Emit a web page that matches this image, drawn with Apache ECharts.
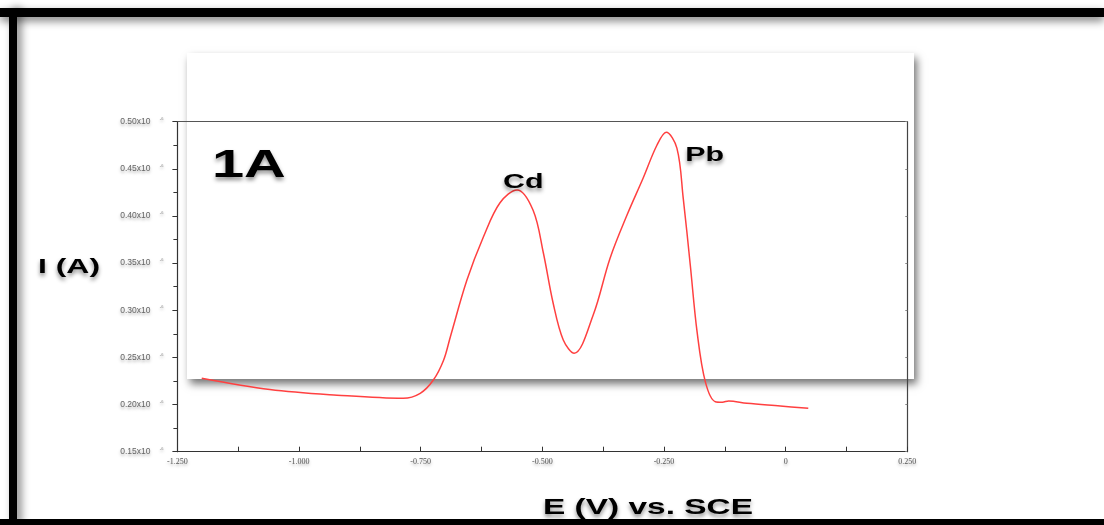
<!DOCTYPE html>
<html><head><meta charset="utf-8">
<script src="https://cdn.jsdelivr.net/npm/echarts@6/dist/echarts.min.js"></script>
<style>html,body{margin:0;padding:0;background:#fff}#c{width:1104px;height:525px}</style>
</head><body><div id="c"></div>
<script>
// Data
const potentialV = [-1.200,-1.060,-0.922,-0.786,-0.751,-0.724,-0.703,-0.689,-0.655,-0.621,-0.587,-0.552,-0.519,-0.498,-0.478,-0.457,-0.4345,-0.3955,-0.361,-0.326,-0.293,-0.2646,-0.2455,-0.2235,-0.2105,-0.196,-0.182,-0.165,-0.1445,-0.130,-0.117,-0.0795,-0.011,0.0465];
const currentA = [0.228,0.216,0.210,0.2066,0.2119,0.226,0.247,0.272,0.332,0.378,0.414,0.4276,0.406,0.361,0.308,0.2685,0.2544,0.295,0.355,0.401,0.440,0.475,0.4888,0.472,0.419,0.348,0.277,0.224,0.203,0.2025,0.2038,0.2013,0.1985,0.196];
const xTickValues = [-1.25,-1.0,-0.75,-0.5,-0.25,0,0.25];
const xTickLabels = ['-1.250','-1.000','-0.750','-0.500','-0.250','0','0.250'];
const yTickValues = [0.15,0.20,0.25,0.30,0.35,0.40,0.45,0.50];
const yTickLabels = ['0.15x10','0.20x10','0.25x10','0.30x10','0.35x10','0.40x10','0.45x10','0.50x10'];
const peakNames = ['Cd','Pb'];
const peakPotential = [-0.552,-0.2455];
const peakCurrent = [0.4276,0.4888];

const chart = echarts.init(document.getElementById('c'));
const seriesData = potentialV.map((v,i)=>[v,currentA[i]]);
const shadowText = {textShadowColor:'rgba(0,0,0,0.45)', textShadowBlur:4, textShadowOffsetY:3};
const SX = 1.52;

function findLabel(vals, labels, v){
  for(let i=0;i<vals.length;i++){ if(Math.abs(vals[i]-v)<1e-6) return labels[i]; }
  return '';
}
function wideText(text, x, y, size, z){
  return {type:'text', z:z||20, x:x, y:y, scaleX:SX, originX:0, originY:0,
    style:Object.assign({text:text, font:'bold '+size+'px "Liberation Sans"', fill:'#000',
      verticalAlign:'middle', align:'left'}, shadowText)};
}

chart.setOption({
  animation:false,
  backgroundColor:'#fff',
  grid:{left:177.4, right:196.7, top:121.7, bottom:73.3, show:false},
  xAxis:[{
    type:'value', min:-1.25, max:0.25, interval:0.25,
    axisLine:{show:true, onZero:false, lineStyle:{color:'#333', width:1.2}},
    axisTick:{show:true, inside:true, length:5, lineStyle:{color:'#333'}},
    minorTick:{show:true, splitNumber:2, length:5, lineStyle:{color:'#333'}},
    splitLine:{show:false},
    axisLabel:{fontSize:8, color:'#555', fontFamily:'Liberation Serif', margin:6,
      textShadowColor:'rgba(0,0,0,0.35)', textShadowBlur:3, textShadowOffsetY:2,
      formatter:v=>findLabel(xTickValues,xTickLabels,v)}
  },{
    type:'value', position:'top', min:-1.25, max:0.25, interval:0.25,
    axisLine:{show:true, onZero:false, lineStyle:{color:'#555', width:1.2}},
    axisTick:{show:false}, axisLabel:{show:false}, splitLine:{show:false}
  }],
  yAxis:[{
    type:'value', min:0.15, max:0.50, interval:0.05,
    axisLine:{show:true, onZero:false, lineStyle:{color:'#333', width:1.2}},
    axisTick:{show:true, inside:false, length:5, lineStyle:{color:'#333'}},
    minorTick:{show:true, splitNumber:2, length:4, lineStyle:{color:'#333'}},
    splitLine:{show:false},
    axisLabel:{fontSize:8.5, color:'#666', fontFamily:'Liberation Sans', margin:14,
      textShadowColor:'rgba(0,0,0,0.35)', textShadowBlur:3, textShadowOffsetY:2,
      formatter:v=>findLabel(yTickValues,yTickLabels,v)+'    {s|-6}',
      rich:{s:{fontSize:4, color:'#888', verticalAlign:'top', padding:[0,0,6,0]}}}
  },{
    type:'value', position:'right', min:0.15, max:0.50, interval:0.05,
    axisLine:{show:true, onZero:false, lineStyle:{color:'#444', width:1.2}},
    axisTick:{show:true, inside:true, length:2, lineStyle:{color:'#888'}},
    axisLabel:{show:false}, splitLine:{show:false}
  }],
  series:[{
    type:'line', data:seriesData, smooth:0.35, showSymbol:false, z:5,
    lineStyle:{color:'#ff4040', width:1.5}
  }],
  graphic:[
    {type:'rect', z:-5, shape:{x:187, y:53, width:727, height:326},
     style:{fill:'#fff', shadowColor:'rgba(0,0,0,0.55)', shadowBlur:8, shadowOffsetX:3, shadowOffsetY:5}},
    {type:'rect', z:50, shape:{x:0, y:8, width:1104, height:9},
     style:{fill:'#000', shadowColor:'rgba(0,0,0,0.5)', shadowBlur:8, shadowOffsetY:4}},
    {type:'rect', z:50, shape:{x:9, y:8, width:8, height:517},
     style:{fill:'#000', shadowColor:'rgba(0,0,0,0.5)', shadowBlur:8, shadowOffsetX:4}},
    {type:'rect', z:50, shape:{x:0, y:519, width:1104, height:6},
     style:{fill:'#000'}},
    wideText('1A', 212, 167, 38),
    wideText('I (A)', 38, 267, 21),
    wideText('E (V) vs. SCE', 543, 508, 22)
  ]
});

// Peak annotations positioned from the data through the chart's own scales
const peakOffsets = [[-14,-7],[19,23]];
const extra = peakNames.map((n,i)=>{
  const p = chart.convertToPixel({xAxisIndex:0, yAxisIndex:0}, [peakPotential[i], peakCurrent[i]]);
  return wideText(n, p[0]+peakOffsets[i][0], p[1]+peakOffsets[i][1], 20, 30);
});
chart.setOption({graphic: chart.getOption().graphic[0].elements.concat(extra)});
</script></body></html>
